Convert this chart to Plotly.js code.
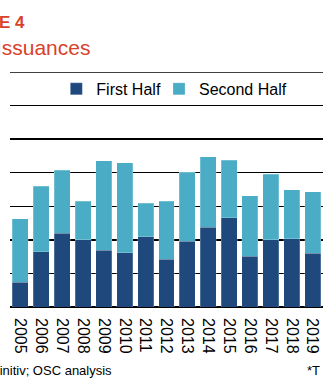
<!DOCTYPE html>
<html>
<head>
<meta charset="utf-8">
<script src="https://cdn.plot.ly/plotly-3.0.1.min.js"></script>
<style>
  html, body { margin: 0; padding: 0; background: #fff; }
  #chart { width: 324px; height: 390px; }
</style>
</head>
<body>
<div id="chart"></div>
<script>
const years = ["2005","2006","2007","2008","2009","2010","2011","2012","2013","2014","2015","2016","2017","2018","2019"];
const firstHalf  = [7.4, 16.5, 21.9, 20.1, 16.9, 16.2, 21.0, 14.2, 19.6, 23.8, 26.6, 15.1, 20.1, 20.4, 16.0];
const secondHalf = [18.9, 19.4, 18.8, 11.4, 26.7, 26.8, 9.9, 17.3, 20.5, 21.0, 17.1, 18.0, 19.5, 14.6, 18.4];
const seriesNames = ["First Half", "Second Half"];
const seriesColors = ["#1F497D", "#4BACC6"];

const traces = [
  { type: "bar", x: years, y: firstHalf, name: seriesNames[0], legend: "legend",
    marker: { color: seriesColors[0], line: { color: "rgba(255,255,255,0.35)", width: 0.6 } } },
  { type: "bar", x: years, y: secondHalf, name: seriesNames[1], legend: "legend2",
    marker: { color: seriesColors[1], line: { color: "rgba(255,255,255,0.35)", width: 0.6 } } }
];

const legendCommon = {
  orientation: "h", xanchor: "left", y: 0.928, yanchor: "middle",
  font: { size: 16, color: "#000" }, bgcolor: "rgba(0,0,0,0)", itemwidth: 30
};

const layout = {
  width: 324, height: 390,
  margin: { l: 9.5, r: 0.5, t: 72, b: 82.5, pad: 0 },
  paper_bgcolor: "#fff", plot_bgcolor: "#fff",
  barmode: "stack",
  bargap: 0.235,
  font: { family: "Liberation Sans, Arial, sans-serif", color: "#000" },
  showlegend: true,
  legend: Object.assign({}, legendCommon, { x: 0.148 }),
  legend2: Object.assign({}, legendCommon, { x: 0.476 }),
  xaxis: {
    type: "category", tickangle: 90, tickfont: { size: 16, color: "#000" },
    ticklabelstandoff: 10,
    showgrid: false, showline: false, ticks: "", zeroline: false, fixedrange: true
  },
  yaxis: {
    range: [0, 70], dtick: 10, tick0: 0, showticklabels: false, ticks: "",
    showgrid: true, gridcolor: "#000", gridwidth: 1.3,
    zeroline: true, zerolinecolor: "#000", zerolinewidth: 1.5, showline: false, fixedrange: true
  },
  shapes: [
    { type: "line", xref: "paper", yref: "y", x0: 0, x1: 1, y0: 70, y1: 70,
      line: { color: "#000", width: 1.3 }, layer: "below" }
  ],
  annotations: [
    { xref: "paper", yref: "paper", x: 0.0557, y: 1.212, xanchor: "right", yanchor: "middle",
      text: "<b>FIGURE 4</b>", showarrow: false, font: { size: 17, color: "#D9412B" } },
    { xref: "paper", yref: "paper", x: 0.263, y: 1.106, xanchor: "right", yanchor: "middle",
      text: "Bond Issuances", showarrow: false, font: { size: 21, color: "#D9412B" } },
    { xref: "paper", yref: "paper", x: 0.331, y: -0.27, xanchor: "right", yanchor: "middle",
      text: "Source: Refinitiv; OSC analysis", showarrow: false, font: { size: 13, color: "#000" } },
    { xref: "paper", yref: "paper", x: 0.944, y: -0.27, xanchor: "left", yanchor: "middle",
      text: "*T", showarrow: false, font: { size: 13, color: "#000" } }
  ]
};

Plotly.newPlot("chart", traces, layout, { displayModeBar: false, staticPlot: true });
</script>
</body>
</html>
